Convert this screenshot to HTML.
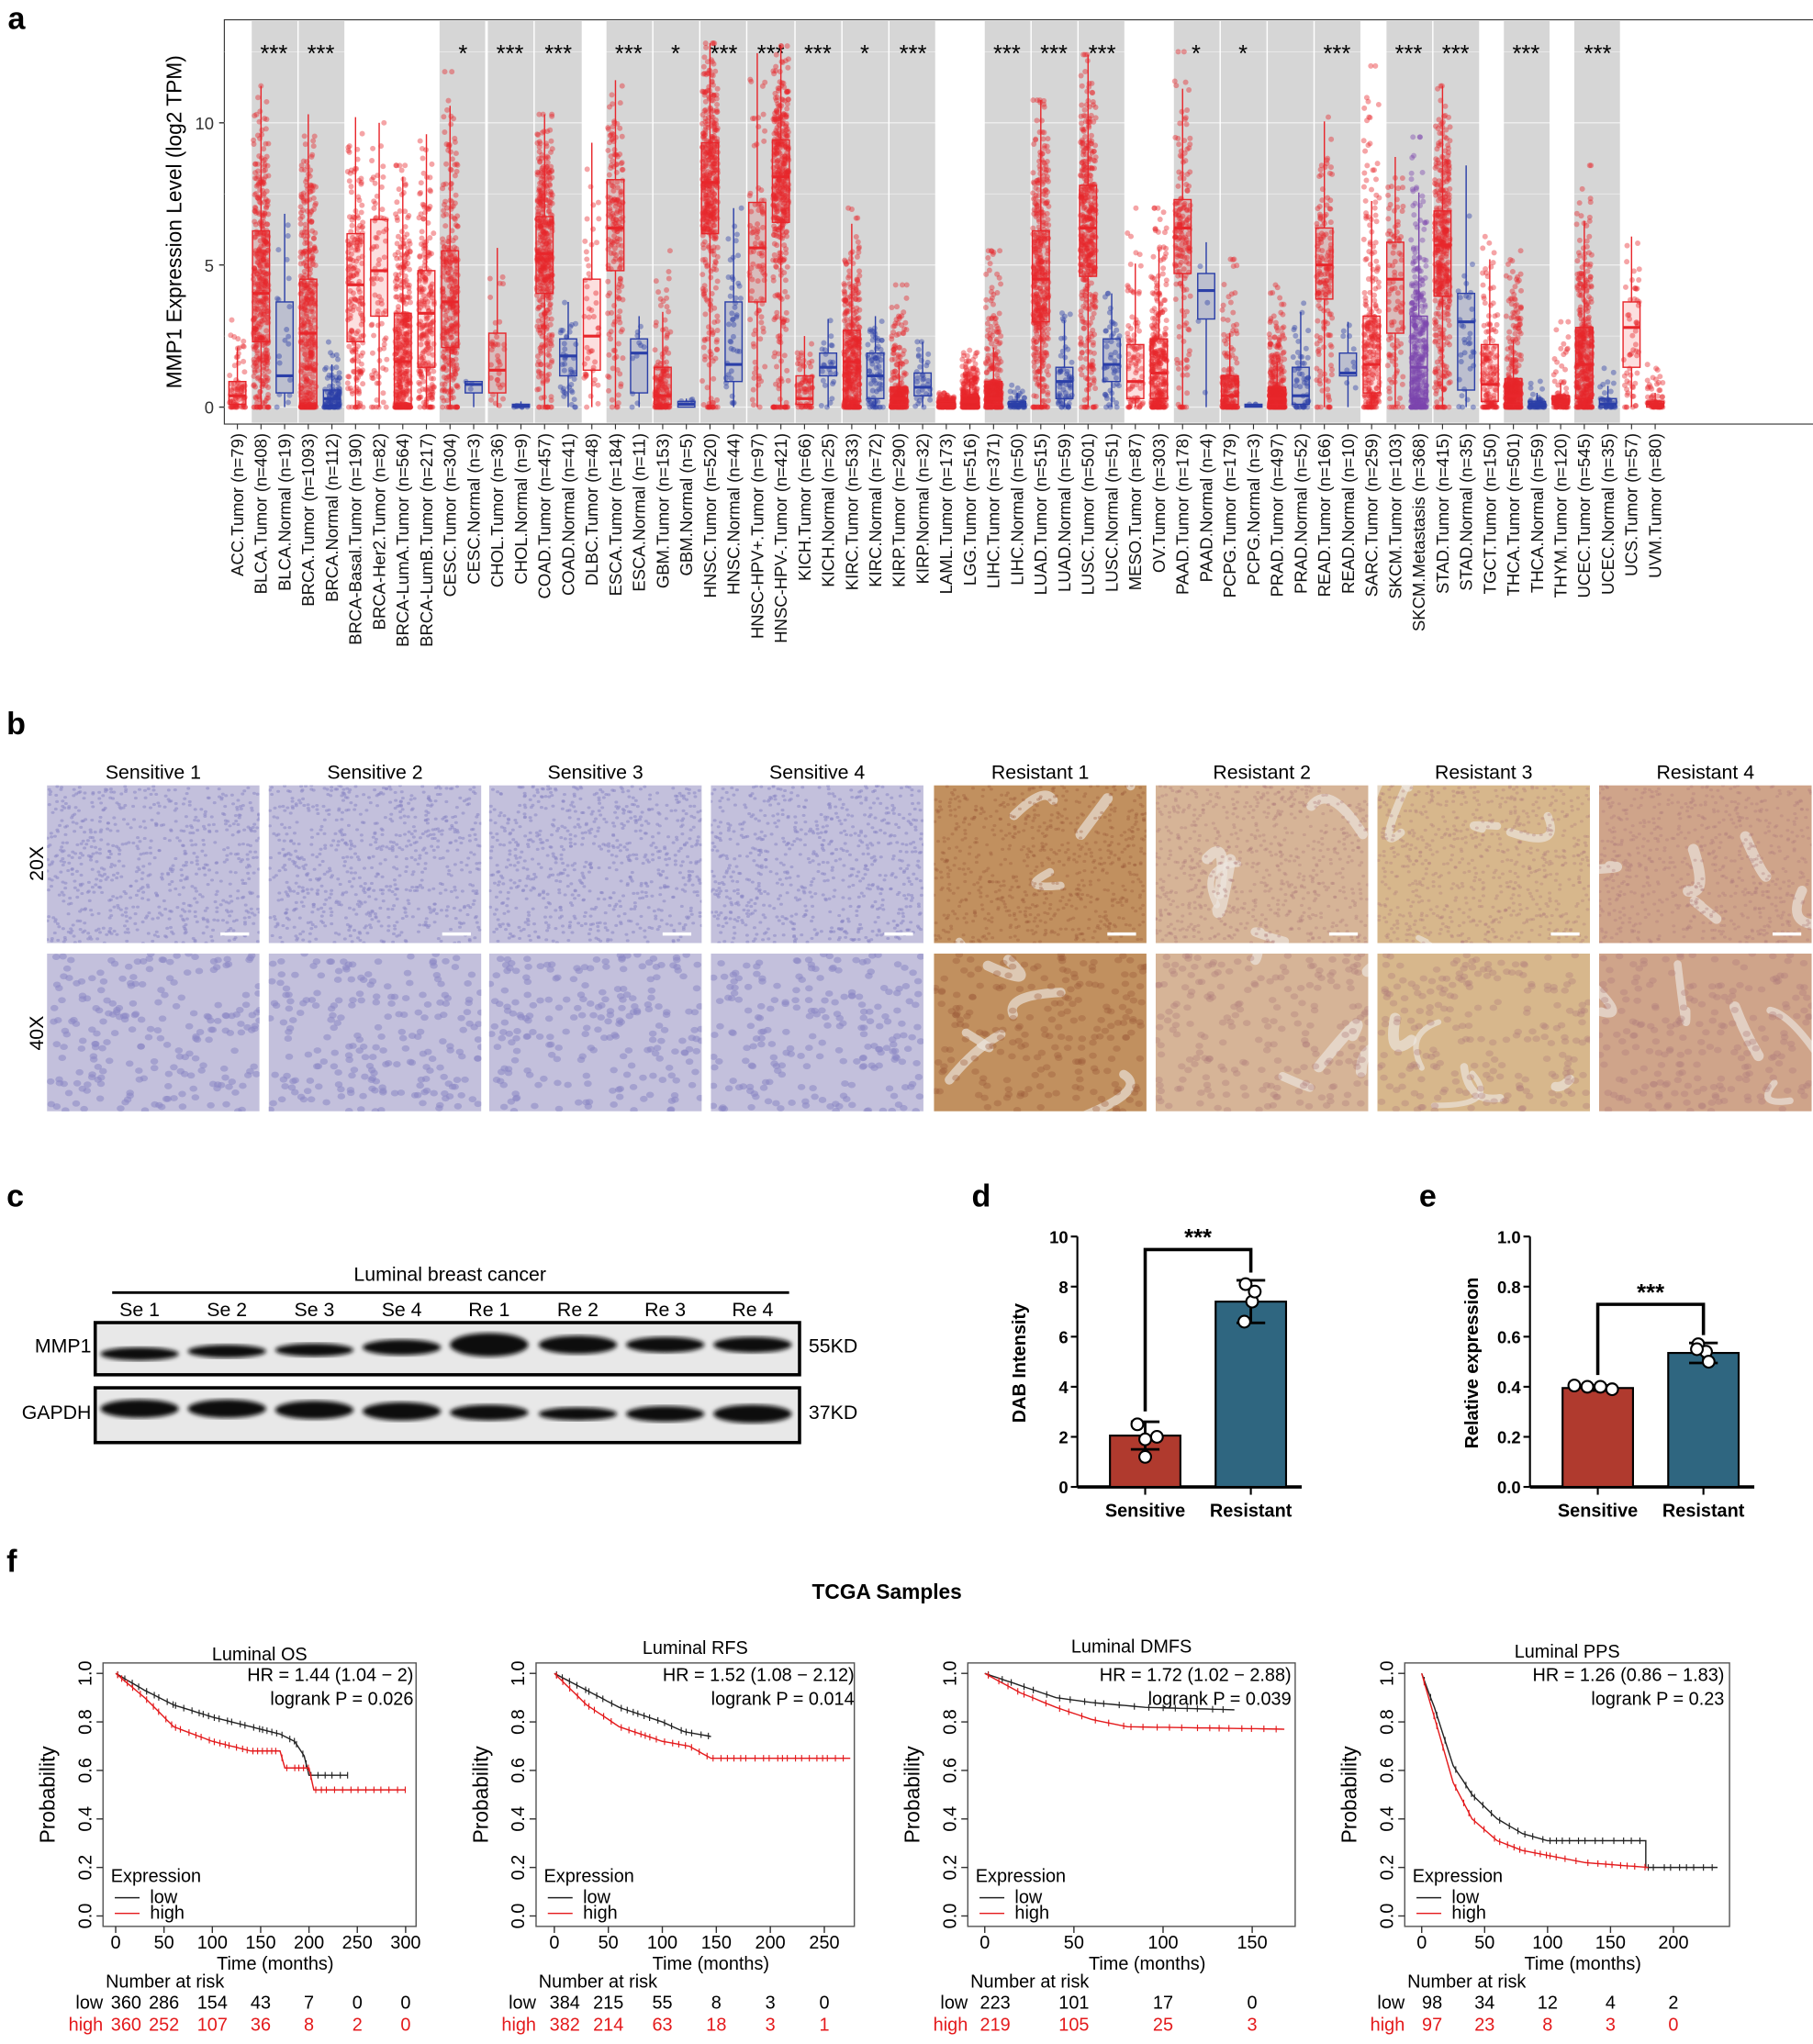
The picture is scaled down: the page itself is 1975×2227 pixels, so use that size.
<!DOCTYPE html>
<html><head><meta charset="utf-8"><style>
html,body{margin:0;padding:0;background:#fff;}
svg{display:block;font-family:"Liberation Sans",Arial,sans-serif;}
</style></head><body>
<svg id="s" width="1975" height="2227" viewBox="0 0 1390 1567" xmlns="http://www.w3.org/2000/svg">
<rect width="1390" height="1567" fill="#fff"/>
<g id="a"></g><g id="b"></g><g id="c"></g><g id="d"></g><g id="f"></g>
</svg>
<script>
const NS="http://www.w3.org/2000/svg";
let seed=7;function rnd(){seed=(seed*16807)%2147483647;return (seed-1)/2147483646;}
function gauss(){return Math.sqrt(-2*Math.log(rnd()+1e-9))*Math.cos(2*Math.PI*rnd());}
let H={a:"",b:"",c:"",d:"",f:""};
function T(g,x,y,t,o){o=o||{};H[g]+=`<text x="${x}" y="${y}" font-size="${o.fs||13}" fill="${o.fill||'#000'}" text-anchor="${o.a||'start'}" ${o.fw?'font-weight="bold"':''} ${o.tr?`transform="${o.tr}"`:''}>${t}</text>`;}
// ---------- Panel a ----------
T('a',6,22,'a',{fs:24,fw:1});
const PX0=172,PX1=1392,PY0=15,PY1=325;
H.a+=`<rect x="${PX0}" y="${PY0}" width="${PX1-PX0}" height="${PY1-PY0}" fill="#fff" stroke="#333" stroke-width="0.8"/>`;
const bands=[[193,228],[229,264],[337,372],[374,409],[410,446],[465,500],[501,536],[537,572],[573,609],[610,645],[646,681],[682,717],[755,790],[791,826],[827,862],[900,935],[936,971],[972,1007],[1008,1043],[1063,1098],[1099,1134],[1153,1188],[1207,1242]];
bands.forEach(b=>H.a+=`<rect x="${b[0]}" y="${PY0+1}" width="${b[1]-b[0]}" height="${PY1-PY0-2}" fill="#d6d6d6"/>`);
const yv=v=>312-v*21.8;
[0,2.5,5,7.5,10,12.5].forEach(v=>H.a+=`<line x1="${PX0}" x2="${PX1}" y1="${yv(v)}" y2="${yv(v)}" stroke="#fff" stroke-opacity="0.6" stroke-width="${v%5?0.5:1}"/>`);
const stars=[[210,'***'],[246,'***'],[355,'*'],[391,'***'],[428,'***'],[482,'***'],[518,'*'],[555,'***'],[591,'***'],[627,'***'],[663,'*'],[700,'***'],[772,'***'],[808,'***'],[845,'***'],[917,'*'],[953,'*'],[1025,'***'],[1080,'***'],[1116,'***'],[1170,'***'],[1225,'***']];
stars.forEach(s=>T('a',s[0],47,s[1],{fs:18,a:'middle'}));
const R='#e8262b',B='#2b3fa8',P='#7b45ad';
const cats=[
["ACC.Tumor (n=79)",R,.4,.1,.9,5,79],["BLCA.Tumor (n=408)",R,4,2.3,6.2,11.3,408],["BLCA.Normal (n=19)",B,1.1,.5,3.7,6.8,19],
["BRCA.Tumor (n=1093)",R,2.6,.1,4.5,10.3,1093],["BRCA.Normal (n=112)",B,.3,0,.6,2.5,112],["BRCA-Basal.Tumor (n=190)",R,4.3,2.3,6.1,10.2,190],
["BRCA-Her2.Tumor (n=82)",R,4.8,3.2,6.6,10,82],["BRCA-LumA.Tumor (n=564)",R,1.6,.1,3.3,8.5,564],["BRCA-LumB.Tumor (n=217)",R,3.3,1.4,4.8,9.6,217],
["CESC.Tumor (n=304)",R,3.7,2.1,5.5,11.8,304],["CESC.Normal (n=3)",B,.8,.5,.9,.9,3],["CHOL.Tumor (n=36)",R,1.3,.5,2.6,5.6,36],
["CHOL.Normal (n=9)",B,.05,0,.1,.2,9],["COAD.Tumor (n=457)",R,5.4,4,6.7,10.3,457],["COAD.Normal (n=41)",B,1.8,1.1,2.4,3.7,41],
["DLBC.Tumor (n=48)",R,2.5,1.3,4.5,9.3,48],["ESCA.Tumor (n=184)",R,6.3,4.8,8,11.5,184],["ESCA.Normal (n=11)",B,1.9,.5,2.4,3.2,11],
["GBM.Tumor (n=153)",R,.4,.1,1.4,5.5,153],["GBM.Normal (n=5)",B,.1,0,.2,.3,5],["HNSC.Tumor (n=520)",R,7.9,6.1,9.3,12.8,520],
["HNSC.Normal (n=44)",B,1.5,.9,3.7,7,44],["HNSC-HPV+.Tumor (n=97)",R,5.6,3.7,7.2,12.5,97],["HNSC-HPV-.Tumor (n=421)",R,8.1,6.5,9.4,12.7,421],
["KICH.Tumor (n=66)",R,.3,.1,1.1,2.5,66],["KICH.Normal (n=25)",B,1.4,1.1,1.9,3.2,25],["KIRC.Tumor (n=533)",R,1.6,.2,2.7,7,533],
["KIRC.Normal (n=72)",B,1.1,.3,1.9,3.2,72],["KIRP.Tumor (n=290)",R,.3,.1,.7,4.3,290],["KIRP.Normal (n=32)",B,.7,.4,1.2,2.3,32],
["LAML.Tumor (n=173)",R,.1,0,.2,.5,173],["LGG.Tumor (n=516)",R,.2,0,.4,2,516],["LIHC.Tumor (n=371)",R,.3,.1,.9,5.5,371],
["LIHC.Normal (n=50)",B,.1,0,.2,1,50],["LUAD.Tumor (n=515)",R,4.5,3,6.2,10.8,515],["LUAD.Normal (n=59)",B,.9,.3,1.4,4,59],
["LUSC.Tumor (n=501)",R,6.3,4.6,7.8,12.4,501],["LUSC.Normal (n=51)",B,1.5,.9,2.4,4,51],["MESO.Tumor (n=87)",R,.9,.3,2.2,7,87],
["OV.Tumor (n=303)",R,1.2,.3,2.4,7,303],["PAAD.Tumor (n=178)",R,6.3,4.7,7.3,12.5,178],["PAAD.Normal (n=4)",B,4.1,3.1,4.7,5.8,4],
["PCPG.Tumor (n=179)",R,.4,.1,1.1,5.2,179],["PCPG.Normal (n=3)",B,.05,0,.1,.1,3],["PRAD.Tumor (n=497)",R,.3,.1,.7,4.3,497],
["PRAD.Normal (n=52)",B,.4,.1,1.4,3.7,52],["READ.Tumor (n=166)",R,5,3.8,6.3,10.2,166],["READ.Normal (n=10)",B,1.2,1.1,1.9,3,10],
["SARC.Tumor (n=259)",R,1.5,.5,3.2,12,259],["SKCM.Tumor (n=103)",R,4.5,2.6,5.8,8.8,103],["SKCM.Metastasis (n=368)",P,1.4,.3,3.2,9.5,368],
["STAD.Tumor (n=415)",R,5.7,3.9,6.9,11.3,415],["STAD.Normal (n=35)",B,3,.6,4,8.5,35],["TGCT.Tumor (n=150)",R,.8,.2,2.2,6,150],
["THCA.Tumor (n=501)",R,.4,.1,1,5.5,501],["THCA.Normal (n=59)",B,.1,0,.2,1,59],["THYM.Tumor (n=120)",R,.2,.1,.4,3,120],
["UCEC.Tumor (n=545)",R,1.5,.3,2.8,8.5,545],["UCEC.Normal (n=35)",B,.1,0,.3,1.5,35],["UCS.Tumor (n=57)",R,2.8,1.4,3.7,6,57],
["UVM.Tumor (n=80)",R,.1,0,.2,1.5,80]];
const dx=(1269-182)/60;
cats.forEach((c,i)=>{
 const x=182+i*dx,[lab,col,med,q1,q3,mx,n]=c;
 const np=Math.min(n,420);let pts="";
 for(let k=0;k<np;k++){
  let v;const u=rnd();
  if(u<0.5) v=q1+(q3-q1)*rnd(); else if(u<0.75) v=Math.max(0,q1-Math.abs(gauss())*(q1+0.3)*0.6); else v=q3+Math.abs(gauss())*(mx-q3)*0.45;
  v=Math.min(Math.max(v,0),mx);
  pts+=`<circle cx="${(x+(rnd()-0.5)*12).toFixed(1)}" cy="${yv(v).toFixed(1)}" r="2.1"/>`;
 }
 H.a+=`<g fill="${col}" fill-opacity="0.42">${pts}</g>`;
 const wt=Math.min(mx,q3+1.5*(q3-q1));
 H.a+=`<g stroke="${col}" stroke-width="1" fill="none"><line x1="${x}" x2="${x}" y1="${yv(q3)}" y2="${yv(wt)}"/><line x1="${x}" x2="${x}" y1="${yv(q1)}" y2="${yv(0)}"/><rect x="${x-6.5}" y="${yv(q3)}" width="13" height="${Math.max(1,yv(q1)-yv(q3))}" fill="${col}" fill-opacity="0.15"/><line x1="${x-6.5}" x2="${x+6.5}" y1="${yv(med)}" y2="${yv(med)}" stroke-width="2.2"/></g>`;
 H.a+=`<line x1="${x}" x2="${x}" y1="${PY1}" y2="${PY1+4}" stroke="#333" stroke-width="0.8"/>`;
 T('a',x+4.5,332,lab,{fs:13,a:'end',tr:`rotate(-90 ${x+4.5} 332)`,fill:'#111'});
});
[[0,'0'],[5,'5'],[10,'10']].forEach(t=>{T('a',164,yv(t[0])+5,t[1],{fs:13,a:'end',fill:'#333'});H.a+=`<line x1="${PX0-4}" x2="${PX0}" y1="${yv(t[0])}" y2="${yv(t[0])}" stroke="#333"/>`;});
T('a',139,170,'MMP1 Expression Level (log2 TPM)',{fs:16,a:'middle',tr:'rotate(-90 139 170)'});
// ---------- Panel b ----------
T('b',5,563,'b',{fs:24,fw:1});
const cols=[36,206,375,545,716,886,1056,1226],cw=163;
const heads=["Sensitive 1","Sensitive 2","Sensitive 3","Sensitive 4","Resistant 1","Resistant 2","Resistant 3","Resistant 4"];
const rows=[[602,121],[731,121]];
T('b',33,662,'20X',{fs:15,a:'middle',tr:'rotate(-90 33 662)'});
T('b',33,792,'40X',{fs:15,a:'middle',tr:'rotate(-90 33 792)'});
const rbg=['#c1905f','#d6b497','#d7b78c','#cfa48a'];
cols.forEach((x,i)=>{
 T('b',x+cw/2,597,heads[i],{fs:15,a:'middle'});
 rows.forEach((r,ri)=>{
  const [y,h]=r;const sens=i<4;
  let s=`<svg x="${x}" y="${y}" width="${cw}" height="${h}"><rect width="${cw}" height="${h}" fill="${sens?'#c3c0dc':rbg[i-4]}"/>`;
  if(!sens){for(let k=0;k<5;k++){const px=rnd()*cw,py=rnd()*h;s+=`<path d="M${px} ${py} q${rnd()*60-30} ${rnd()*60-30} ${rnd()*80-40} ${rnd()*80-40}" stroke="#ece6e0" stroke-opacity="0.65" stroke-width="${4+rnd()*5}" fill="none" stroke-linecap="round"/>`;}}
  const nn=ri?220:700,rr=ri?3:1.4;
  for(let k=0;k<nn;k++){s+=`<ellipse cx="${(rnd()*cw).toFixed(1)}" cy="${(rnd()*h).toFixed(1)}" rx="${rr}" ry="${rr*0.8}" fill="${sens?'#8a86c4':(i==4?'#9a5a3a':'#b07a7a')}" fill-opacity="${sens?0.55:0.35}"/>`;}
  s+=`</svg>`;H.b+=s;
  if(ri==0) H.b+=`<line x1="${x+cw-30}" x2="${x+cw-8}" y1="${y+h-7}" y2="${y+h-7}" stroke="#fff" stroke-width="2.5"/>`;
 });
});
// ---------- Panel c ----------
T('c',5,925,'c',{fs:24,fw:1});
T('c',345,982,'Luminal breast cancer',{fs:15,a:'middle'});
H.c+=`<line x1="86" x2="605" y1="991" y2="991" stroke="#000" stroke-width="2"/>`;
const lx=[107,174,241,308,375,443,510,577],ll=["Se 1","Se 2","Se 3","Se 4","Re 1","Re 2","Re 3","Re 4"];
lx.forEach((x,i)=>T('c',x,1009,ll[i],{fs:15,a:'middle'}));
H.c+=`<defs><filter id="bl2"><feGaussianBlur stdDeviation="1.6"/></filter></defs>`;
function blot(y,h,bands){
 H.c+=`<rect x="73" y="${y}" width="540" height="${h}" fill="#e8e8e8" stroke="#000" stroke-width="2.5"/>`;
 lx.forEach((x,i)=>{const b=bands[i];H.c+=`<ellipse cx="${x}" cy="${b[0]}" rx="30" ry="${b[1]}" fill="#111" filter="url(#bl2)"/>`;});
}
blot(1014,40,[[1038,5],[1036,5],[1035,5],[1033,6],[1031,9],[1031,7],[1031,6],[1031,6]]);
blot(1064,42,[[1080,7],[1080,7],[1081,7],[1082,7],[1083,6],[1084,5],[1084,6],[1084,7]]);
T('c',70,1037,'MMP1',{fs:15,a:'end'});T('c',620,1037,'55KD',{fs:15});
T('c',70,1088,'GAPDH',{fs:15,a:'end'});T('c',620,1088,'37KD',{fs:15});
// ---------- Panels d,e ----------
function bar(letter,lx0,ax,ymax,ticks,fmt,sv,rv,sdS,sdR,ptsS,ptsR,brY,ylab){
 T('d',lx0,925,letter,{fs:24,fw:1});
 const y0=1140,sc=192/ymax,Y=v=>y0-v*sc;
 H.d+=`<line x1="${ax}" x2="${ax}" y1="${Y(ymax)}" y2="${y0}" stroke="#000" stroke-width="1.5"/><line x1="${ax}" x2="${ax+172}" y1="${y0}" y2="${y0}" stroke="#000" stroke-width="2.5"/>`;
 ticks.forEach(t=>{H.d+=`<line x1="${ax-5}" x2="${ax}" y1="${Y(t)}" y2="${Y(t)}" stroke="#000" stroke-width="1.5"/>`;T('d',ax-7,Y(t)+5,fmt(t),{fs:13,a:'end',fw:1});});
 const xs=ax+52,xr=ax+133;
 [[xs,sv,'#b03a2e',sdS,ptsS],[xr,rv,'#2f6680',sdR,ptsR]].forEach(b=>{
  H.d+=`<rect x="${b[0]-27}" y="${Y(b[1])}" width="54" height="${y0-Y(b[1])}" fill="${b[2]}" stroke="#000" stroke-width="1.5"/>`;
  H.d+=`<g stroke="#000" stroke-width="2"><line x1="${b[0]}" x2="${b[0]}" y1="${Y(b[1]+b[3])}" y2="${Y(b[1]-b[3])}"/><line x1="${b[0]-11}" x2="${b[0]+11}" y1="${Y(b[1]+b[3])}" y2="${Y(b[1]+b[3])}"/><line x1="${b[0]-11}" x2="${b[0]+11}" y1="${Y(b[1]-b[3])}" y2="${Y(b[1]-b[3])}"/></g>`;
  b[4].forEach(p=>H.d+=`<circle cx="${b[0]+p[0]}" cy="${Y(p[1])}" r="4.5" fill="#fff" stroke="#000" stroke-width="1.5"/>`);
  H.d+=`<line x1="${b[0]}" x2="${b[0]}" y1="${y0}" y2="${y0+6}" stroke="#000" stroke-width="1.5"/>`;
 });
 H.d+=`<polyline points="${xs},${Y(sv+sdS)-8} ${xs},${brY} ${xr},${brY} ${xr},${Y(rv+sdR)-6}" fill="none" stroke="#000" stroke-width="2.5"/>`;
 T('d',(xs+xr)/2,brY-3,'***',{fs:18,a:'middle',fw:1});
 T('d',xs,1163,'Sensitive',{fs:14,a:'middle',fw:1});T('d',xr,1163,'Resistant',{fs:14,a:'middle',fw:1});
 const yc=1045,lx2=ax-40;T('d',lx2,yc,ylab,{fs:14,a:'middle',fw:1,tr:`rotate(-90 ${lx2} ${yc})`});
}
bar('d',745,826,10,[0,2,4,6,8,10],t=>t,2.05,7.4,0.55,0.85,[[-6,2.5],[0,1.2],[9,2.0],[0,1.9]],[[-4,8.1],[1,7.4],[-5,6.6],[3,7.8]],958,'DAB Intensity');
bar('e',1088,1173,1.0,[0,.2,.4,.6,.8,1],t=>t.toFixed(1),0.395,0.535,0.01,0.04,[[-18,0.405],[-8,0.4],[2,0.4],[11,0.39]],[[-4,0.57],[2,0.54],[-5,0.55],[4,0.5]],1000,'Relative expression');
// ---------- Panel f ----------
T('f',5,1205,'f',{fs:24,fw:1});
T('f',680,1226,'TCGA Samples',{fs:16,a:'middle',fw:1});
function km(o){
 const {bx0,bx1,xz,xpm,title,ty,hr,lr,hx,xt,low,high,lowc,highc}=o;
 const by0=1275,by1=1477,Yp=p=>1469-186*p,X=t=>xz+t*xpm;
 H.f+=`<rect x="${bx0}" y="${by0}" width="${bx1-bx0}" height="${by1-by0}" fill="none" stroke="#555" stroke-width="1"/>`;
 T('f',(bx0+bx1)/2,ty,title,{fs:14,a:'middle'});
 T('f',hx,1289,hr,{fs:14,a:'end'});T('f',hx,1307,lr,{fs:14,a:'end'});
 [0,.2,.4,.6,.8,1].forEach(p=>{H.f+=`<line x1="${bx0-5}" x2="${bx0}" y1="${Yp(p)}" y2="${Yp(p)}" stroke="#333"/>`;const tx=bx0-9;T('f',tx,Yp(p),p.toFixed(1),{fs:14,a:'middle',tr:`rotate(-90 ${tx} ${Yp(p)})`});});
 const lxp=bx0-37;T('f',lxp,1376,'Probability',{fs:16,a:'middle',tr:`rotate(-90 ${lxp} 1376)`});
 xt.forEach(t=>{H.f+=`<line x1="${X(t)}" x2="${X(t)}" y1="${by1}" y2="${by1+5}" stroke="#333"/>`;T('f',X(t),1494,t,{fs:14,a:'middle'});});
 T('f',(bx0+bx1)/2+12,1510,'Time (months)',{fs:14,a:'middle'});
 T('f',bx0+2,1524,'Number at risk',{fs:14});
 T('f',bx0+0,1540,'low',{fs:14,a:'end'});T('f',bx0+0,1557,'high',{fs:14,a:'end',fill:'#e41a1c'});
 lowc.forEach((v,i)=>T('f',X(xt[i])+(i==0?8:0),1540,v,{fs:14,a:'middle'}));
 highc.forEach((v,i)=>T('f',X(xt[i])+(i==0?8:0),1557,v,{fs:14,a:'middle',fill:'#e41a1c'}));
 [[low,'#222'],[high,'#e41a1c']].forEach(c=>{
  const pts=c[0];
  let dd='';for(let i=0;i<pts.length-1;i++){const a=pts[i],b=pts[i+1];const st=Math.max(1,Math.round((b[0]-a[0])/4));for(let k=0;k<=st;k++){const t=a[0]+(b[0]-a[0])*k/st,p=a[1]+(b[1]-a[1])*k/st;dd+=(dd?' L':'M')+X(t).toFixed(1)+' '+Yp(p).toFixed(1);}}
  H.f+=`<path d="${dd}" fill="none" stroke="${c[1]}" stroke-width="1"/>`;
  let ticks='';for(let i=0;i<pts.length-1;i++){const a=pts[i],b=pts[i+1];for(let t=a[0]+2;t<b[0];t+=4+rnd()*5){const p=a[1]+(b[1]-a[1])*(t-a[0])/(b[0]-a[0]);ticks+=`M${X(t).toFixed(1)} ${(Yp(p)-2.5).toFixed(1)} v5`;}}
  H.f+=`<path d="${ticks}" stroke="${c[1]}" stroke-width="0.8"/>`;
 });
 T('f',bx0+6,1443,'Expression',{fs:14});
 H.f+=`<line x1="${bx0+9}" x2="${bx0+28}" y1="${1455}" y2="${1455}" stroke="#222"/><line x1="${bx0+9}" x2="${bx0+28}" y1="${1467}" y2="${1467}" stroke="#e41a1c"/>`;
 T('f',bx0+36,1459,'low',{fs:14});T('f',bx0+36,1471,'high',{fs:14});
}
km({bx0:79,bx1:319,xz:88.7,xpm:0.741,title:'Luminal OS',ty:1273,hr:'HR = 1.44 (1.04 − 2)',lr:'logrank P = 0.026',hx:317,xt:[0,50,100,150,200,250,300],
 low:[[0,1],[30,.93],[60,.87],[100,.82],[150,.77],[170,.75],[185,.72],[195,.66],[200,.58],[240,.58]],
 high:[[0,1],[30,.9],[50,.82],[60,.78],[100,.72],[140,.68],[170,.68],[175,.61],[200,.61],[205,.52],[300,.52]],
 lowc:[360,286,154,43,7,0,0],highc:[360,252,107,36,8,2,0]});
km({bx0:411,bx1:655,xz:425,xpm:0.828,title:'Luminal RFS',ty:1268,hr:'HR = 1.52 (1.08 − 2.12)',lr:'logrank P = 0.014',hx:655,xt:[0,50,100,150,200,250],
 low:[[0,1],[30,.93],[60,.86],[100,.8],[120,.76],[145,.74]],
 high:[[0,1],[30,.87],[60,.78],[100,.72],[125,.7],[145,.65],[274,.65]],
 lowc:[384,215,55,8,3,0],highc:[382,214,63,18,3,1]});
km({bx0:742,bx1:993,xz:755,xpm:1.367,title:'Luminal DMFS',ty:1267,hr:'HR = 1.72 (1.02 − 2.88)',lr:'logrank P = 0.039',hx:990,xt:[0,50,100,150],
 low:[[0,1],[20,.95],[40,.9],[60,.88],[90,.86],[140,.85]],
 high:[[0,1],[20,.92],[40,.86],[60,.81],[80,.78],[168,.77]],
 lowc:[223,101,17,0],highc:[219,105,25,3]});
km({bx0:1077,bx1:1326,xz:1090,xpm:0.965,title:'Luminal PPS',ty:1271,hr:'HR = 1.26 (0.86 − 1.83)',lr:'logrank P = 0.23',hx:1322,xt:[0,50,100,150,200],
 low:[[0,1],[10,.86],[25,.62],[40,.5],[60,.4],[80,.34],[100,.31],[178,.31],[178,.2],[235,.2]],
 high:[[0,1],[10,.82],[25,.55],[40,.4],[60,.31],[80,.27],[100,.25],[130,.22],[180,.2]],
 lowc:[98,34,12,4,2],highc:[97,23,8,3,0]});
for(const k in H) document.getElementById(k).innerHTML=H[k];
</script>
</body></html>
